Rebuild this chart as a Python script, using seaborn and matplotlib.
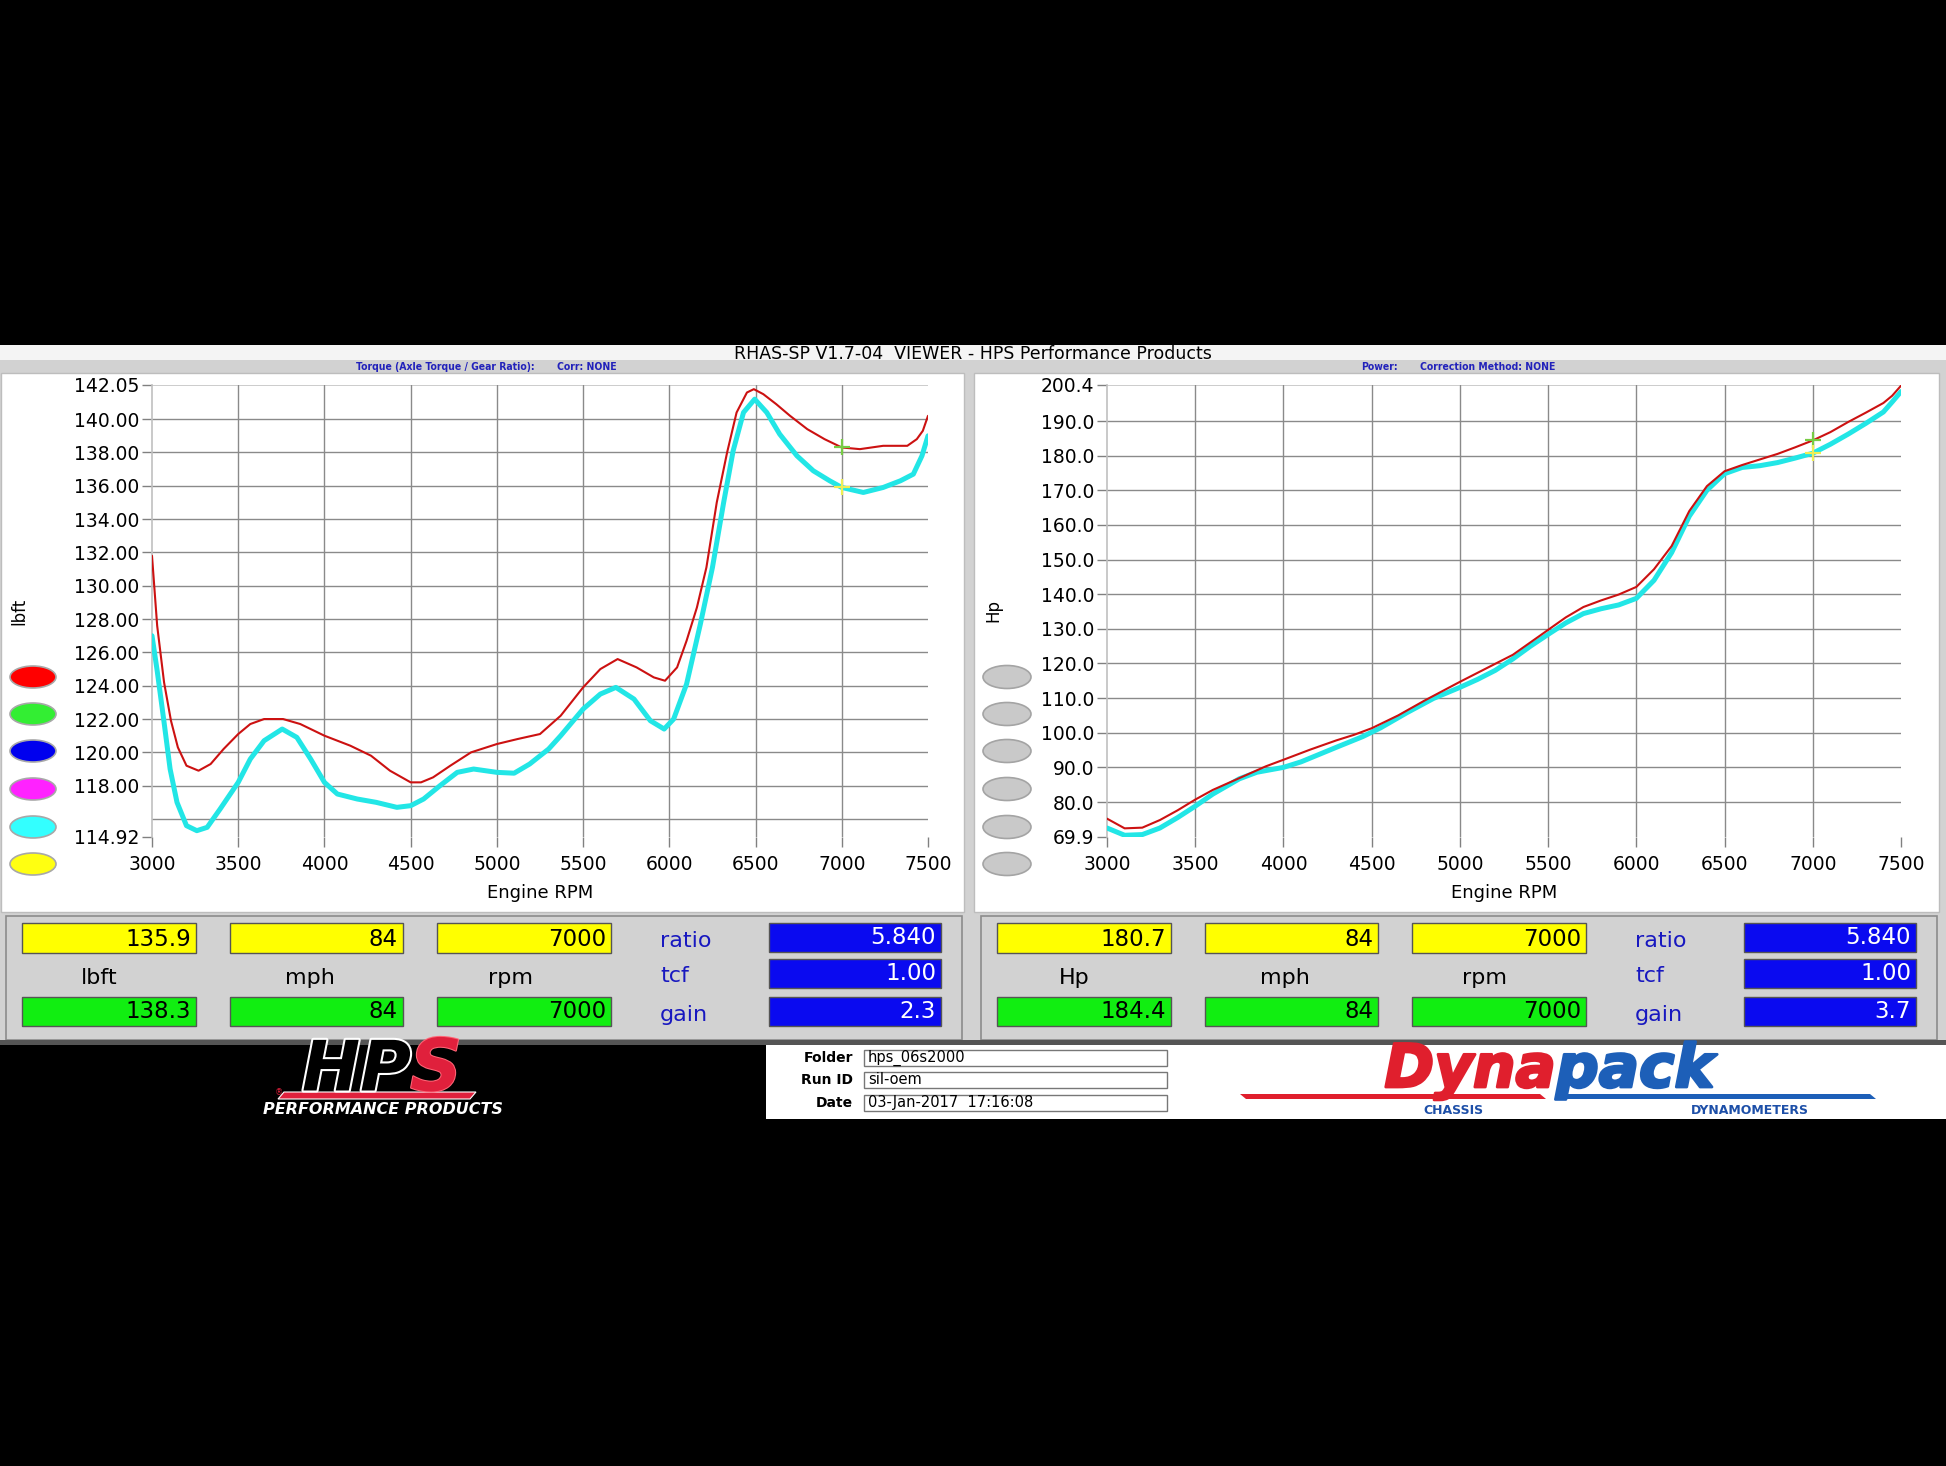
import numpy as np
import pandas as pd
import matplotlib
matplotlib.use("Agg")
import matplotlib.pyplot as plt
import seaborn as sns
from matplotlib.patches import Rectangle, Ellipse, Polygon
import matplotlib.patheffects as pe

# ---------------- data ----------------
red_tq_rpm = [3000, 3030, 3070, 3110, 3150, 3200, 3270, 3340, 3415, 3500, 3570, 3650, 3760, 3860, 4000,
              4150, 4270, 4380, 4500, 4560, 4630, 4730, 4850, 5000, 5120, 5250, 5370, 5500, 5600, 5700,
              5810, 5910, 5975, 6045, 6100, 6160, 6215, 6275, 6335, 6390, 6450, 6490, 6545, 6620, 6700,
              6800, 6900, 7000, 7105, 7240, 7380, 7435, 7470, 7500]
red_tq_val = [131.8, 127.6, 124.2, 121.9, 120.3, 119.2, 118.9, 119.3, 120.2, 121.1, 121.7, 122.0, 122.0, 121.7, 121.0,
              120.4, 119.8, 118.9, 118.2, 118.2, 118.5, 119.2, 120.0, 120.5, 120.8, 121.1, 122.2, 123.9, 125.0, 125.6,
              125.1, 124.5, 124.3, 125.1, 126.7, 128.7, 131.1, 135.0, 138.0, 140.4, 141.6, 141.8, 141.5, 140.9, 140.2,
              139.4, 138.8, 138.3, 138.2, 138.4, 138.4, 138.8, 139.3, 140.2]

cyan_tq_rpm = [3000, 3030, 3070, 3105, 3145, 3200, 3260, 3320, 3395, 3500, 3570, 3650, 3755, 3840, 3920,
               4000, 4075, 4190, 4300, 4420, 4500, 4575, 4670, 4770, 4865, 5000, 5100, 5190, 5300, 5370,
               5500, 5600, 5690, 5795, 5890, 5970, 6025, 6100, 6180, 6250, 6315, 6370, 6430, 6495, 6565,
               6640, 6740, 6835, 6930, 7000, 7125, 7240, 7340, 7415, 7465, 7500]
cyan_tq_val = [127.0, 124.9, 121.8, 119.0, 117.0, 115.6, 115.3, 115.5, 116.6, 118.2, 119.6, 120.7, 121.4, 120.9, 119.6,
               118.2, 117.5, 117.2, 117.0, 116.7, 116.8, 117.2, 118.0, 118.8, 119.0, 118.8, 118.75, 119.3, 120.2, 121.0,
               122.6, 123.5, 123.9, 123.2, 121.9, 121.4, 122.0, 124.1, 127.7, 131.1, 135.0, 138.1, 140.4, 141.2, 140.4,
               139.1, 137.8, 136.9, 136.3, 135.9, 135.6, 135.9, 136.3, 136.7, 137.8, 139.0]

red_hp_rpm = [3000, 3100, 3200, 3300, 3400, 3500, 3600, 3750, 3900, 4000, 4150, 4300, 4400, 4500, 4650, 4800,
              5000, 5150, 5300, 5400, 5500, 5600, 5700, 5800, 5900, 6000, 6100, 6200, 6300, 6400, 6500, 6600,
              6700, 6800, 6900, 7000, 7100, 7200, 7300, 7400, 7450, 7500]
red_hp_val = [75.2, 72.4, 72.6, 74.8, 77.6, 80.7, 83.5, 86.9, 90.3, 92.2, 95.1, 97.8, 99.4, 101.3, 105.0, 109.3,
              114.7, 118.6, 122.5, 126.1, 129.7, 133.3, 136.3, 138.2, 139.9, 142.1, 147.2, 153.9, 164.0, 171.2, 175.5, 177.3,
              178.9, 180.5, 182.4, 184.4, 186.8, 189.7, 192.4, 195.2, 197.3, 200.2]

cyan_hp_rpm = [3000, 3100, 3200, 3300, 3400, 3500, 3600, 3750, 3850, 4000, 4100, 4300, 4450, 4550, 4700, 4850,
               5000, 5100, 5200, 5300, 5400, 5500, 5600, 5700, 5800, 5900, 6000, 6100, 6200, 6300, 6400, 6500,
               6600, 6700, 6800, 6900, 7000, 7100, 7200, 7300, 7400, 7450, 7500]
cyan_hp_val = [72.5, 70.4, 70.6, 72.5, 75.5, 78.8, 82.3, 86.7, 88.6, 90.0, 91.6, 95.8, 98.9, 101.4, 105.8, 109.9,
               113.1, 115.4, 118.0, 121.3, 125.0, 128.4, 131.7, 134.4, 135.8, 136.9, 138.8, 144.0, 152.0, 162.5, 170.0, 174.8,
               176.6, 177.1, 178.0, 179.3, 180.7, 183.3, 186.2, 189.3, 192.6, 195.5, 198.5]

x_ticks = [3000, 3500, 4000, 4500, 5000, 5500, 6000, 6500, 7000, 7500]
tq_ticks = [114.92, 118, 120, 122, 124, 126, 128, 130, 132, 134, 136, 138, 140, 142.05]
tq_grid = [116, 118, 120, 122, 124, 126, 128, 130, 132, 134, 136, 138, 140]
hp_ticks = [69.9, 80, 90, 100, 110, 120, 130, 140, 150, 160, 170, 180, 190, 200.4]
hp_grid = [80, 90, 100, 110, 120, 130, 140, 150, 160, 170, 180, 190]

cursor_rpm = 7000
tq_yellow = ["135.9", "84", "7000"]
tq_green = ["138.3", "84", "7000"]
tq_blue = ["5.840", "1.00", "2.3"]
hp_yellow = ["180.7", "84", "7000"]
hp_green = ["184.4", "84", "7000"]
hp_blue = ["5.840", "1.00", "3.7"]
units_tq = ["lbft", "mph", "rpm"]
units_hp = ["Hp", "mph", "rpm"]
blue_labels = ["ratio", "tcf", "gain"]

title = "RHAS-SP V1.7-04  VIEWER - HPS Performance Products"

# ---------------- setup ----------------
W, H, DPI = 1946, 1466, 100
sns.set_theme(style="white")
plt.rcParams["font.family"] = ["DejaVu Sans"]

RED = "#cc1111"
CYAN = "#22e6e6"
GRID = "#8a8a8a"
APPGRAY = "#d2d2d2"

fig = plt.figure(figsize=(W / DPI, H / DPI), dpi=DPI, facecolor="black")


def fr(x0, y0, x1, y1):
    return [x0 / W, 1 - y1 / H, (x1 - x0) / W, (y1 - y0) / H]


def rect(x0, y0, x1, y1, fc, ec="none", lw=0.0, z=-5):
    l, b, w, h = fr(x0, y0, x1, y1)
    fig.patches.append(Rectangle((l, b), w, h, transform=fig.transFigure,
                                 facecolor=fc, edgecolor=ec, lw=lw, zorder=z))


def poly(pts, fc, ec="none", lw=0.0, z=1):
    fig.patches.append(Polygon([[x / W, 1 - y / H] for x, y in pts], closed=True, transform=fig.transFigure,
                               facecolor=fc, edgecolor=ec, lw=lw, zorder=z))


def txt(x, y, s, **kw):
    return fig.text(x / W, 1 - y / H, s, **kw)


# backgrounds
rect(0, 345, W, 360, "#f4f4f4")
rect(0, 360, W, 1045, APPGRAY)
rect(1, 373, 964, 912, "white", ec="#bdbdbd", lw=1)
rect(974, 373, 1939, 912, "white", ec="#bdbdbd", lw=1)

txt(973, 354, title, ha="center", va="center", fontsize=12.5, color="black")
sub_kw = dict(ha="left", va="center", fontsize=7.5, color="#2222bb", fontweight="bold", fontstretch="condensed")
txt(356, 367, "Torque (Axle Torque / Gear Ratio):", **sub_kw)
txt(557, 367, "Corr: NONE", **sub_kw)
txt(1361, 367, "Power:", **sub_kw)
txt(1420, 367, "Correction Method: NONE", **sub_kw)


def setup_axes(ax, yticks, ylabels, grid_vals, ytop, ylim):
    ax.set_facecolor("white")
    ax.set_xlim(x_ticks[0], x_ticks[-1])
    ax.set_ylim(*ylim)
    for v in grid_vals:
        ax.axhline(v, color=GRID, lw=1.0, zorder=1)
    ax.axhline(ytop, color="#c4c4c4", lw=1.2, zorder=1)
    for v in x_ticks[1:-1]:
        ax.axvline(v, color=GRID, lw=1.0, zorder=1)
    for s in ["top", "right", "bottom"]:
        ax.spines[s].set_visible(False)
    ax.spines["left"].set_color("#c0c0c0")
    ax.spines["left"].set_linewidth(1.2)
    ax.set_xticks(x_ticks)
    ax.set_xticklabels([str(v) for v in x_ticks])
    ax.set_yticks(yticks)
    ax.set_yticklabels(ylabels)
    ax.tick_params(axis="y", left=True, direction="out", length=7, width=1, color="#808080",
                   pad=2, labelsize=13.5, labelcolor="black")
    ax.tick_params(axis="x", bottom=True, direction="out", length=7, width=1, color="#808080",
                   pad=6, labelsize=13.5, labelcolor="black")
    ax.set_xlabel("")
    ax.set_ylabel("")
    ax.grid(False)


# ---------------- left: torque ----------------
axL = fig.add_axes(fr(152, 385, 928, 837))
setup_axes(axL, tq_ticks, ["%.2f" % v for v in tq_ticks], tq_grid, tq_ticks[-1], (tq_ticks[0], tq_ticks[-1]))
df_ct = pd.DataFrame({"rpm": cyan_tq_rpm, "val": cyan_tq_val})
df_rt = pd.DataFrame({"rpm": red_tq_rpm, "val": red_tq_val})
sns.lineplot(data=df_ct, x="rpm", y="val", ax=axL, color=CYAN, lw=3.6, estimator=None, sort=False, legend=False, zorder=3)
sns.lineplot(data=df_rt, x="rpm", y="val", ax=axL, color=RED, lw=1.5, estimator=None, sort=False, legend=False, zorder=4)
axL.plot([cursor_rpm], [float(tq_green[0])], marker="+", ms=11, mew=1.6, color="#77cc44", zorder=5)
axL.plot([cursor_rpm], [float(tq_yellow[0])], marker="+", ms=11, mew=1.6, color="#eeee55", zorder=5)
axL.set_xlabel("")
axL.set_ylabel("")

# ---------------- right: power ----------------
axR = fig.add_axes(fr(1107, 385, 1901, 837))
setup_axes(axR, hp_ticks, ["%.1f" % v for v in hp_ticks], hp_grid, hp_ticks[-1], (hp_ticks[0], hp_ticks[-1]))
df_ch = pd.DataFrame({"rpm": cyan_hp_rpm, "val": cyan_hp_val})
df_rh = pd.DataFrame({"rpm": red_hp_rpm, "val": red_hp_val})
sns.lineplot(data=df_ch, x="rpm", y="val", ax=axR, color=CYAN, lw=3.6, estimator=None, sort=False, legend=False, zorder=3)
sns.lineplot(data=df_rh, x="rpm", y="val", ax=axR, color=RED, lw=1.5, estimator=None, sort=False, legend=False, zorder=4)
axR.plot([cursor_rpm], [float(hp_green[0])], marker="+", ms=11, mew=1.6, color="#77cc44", zorder=5)
axR.plot([cursor_rpm], [float(hp_yellow[0])], marker="+", ms=11, mew=1.6, color="#eeee55", zorder=5)
axR.set_xlabel("")
axR.set_ylabel("")

# axis titles
txt(540, 893, "Engine RPM", ha="center", va="center", fontsize=13, color="black")
txt(1504, 893, "Engine RPM", ha="center", va="center", fontsize=13, color="black")
txt(19, 611, "lbft", ha="center", va="center", rotation=90, fontsize=12, color="black")
txt(993, 611, "Hp", ha="center", va="center", rotation=90, fontsize=12, color="black")

# legend ovals
oval_y = [677, 714, 751, 789, 827, 864]
oval_cols = ["#ff0000", "#33ee33", "#0000ee", "#ff22ff", "#33ffff", "#ffff11"]
for yy, c in zip(oval_y, oval_cols):
    fig.patches.append(Ellipse((33 / W, 1 - yy / H), 46 / W, 22 / H, transform=fig.transFigure,
                               facecolor=c, edgecolor="#a8a8a8", lw=1.2, zorder=6))
    fig.patches.append(Ellipse((1007 / W, 1 - yy / H), 48 / W, 23 / H, transform=fig.transFigure,
                               facecolor="#c9c9c9", edgecolor="#a4a4a4", lw=1.2, zorder=6))


# ---------------- data panels ----------------
def panel(o, yellow, green, blue, units):
    rect(6 + o, 916, 962 + o, 1040, APPGRAY, ec="#8c8c8c", lw=1.2, z=-4)
    boxes_x = [(22, 196), (230, 403), (437, 611)]
    unit_x = [99, 310, 510]
    for (x0, x1), yv, gv, ux, un in zip(boxes_x, yellow, green, unit_x, units):
        rect(x0 + o, 923, x1 + o, 953, "#ffff00", ec="#555555", lw=1, z=-3)
        txt(x1 + o - 5, 939, yv, ha="right", va="center", fontsize=16.5, color="black")
        rect(x0 + o, 997, x1 + o, 1026, "#11ee11", ec="#555555", lw=1, z=-3)
        txt(x1 + o - 5, 1012, gv, ha="right", va="center", fontsize=16.5, color="black")
        txt(ux + o, 978, un, ha="center", va="center", fontsize=16, color="black")
    blue_y = [(923, 952), (959, 988), (997, 1026)]
    lab_y = [941, 976, 1015]
    for (y0, y1), bv, lab, ly in zip(blue_y, blue, blue_labels, lab_y):
        rect(769 + o, y0, 941 + o, y1, "#0a0af0", ec="#555555", lw=1, z=-3)
        txt(941 + o - 5, (y0 + y1) / 2, bv, ha="right", va="center", fontsize=16.5, color="white")
        txt(660 + o, ly, lab, ha="left", va="center", fontsize=16, color="#1818c0")


panel(0, tq_yellow, tq_green, tq_blue, units_tq)
panel(975, hp_yellow, hp_green, hp_blue, units_hp)
rect(0, 1040, W, 1045, "#555555", z=-4)

# ---------------- bottom logo strip ----------------
rect(0, 1045, 766, 1119, "black", z=-4)
rect(766, 1045, 1173, 1119, "white", z=-4)
rect(1173, 1045, W, 1119, "white", z=-4)

# HPS logo
poly([(278, 1099), (470, 1099), (476, 1092), (284, 1092)], "#e0203c", ec="white", lw=0.8, z=2)
txt(302, 1071, "HP", ha="left", va="center", fontsize=50, fontstyle="italic", fontweight="bold",
    color="black", path_effects=[pe.withStroke(linewidth=3, foreground="white")])
txt(410, 1071, "S", ha="left", va="center", fontsize=52, fontstyle="italic", fontweight="bold",
    color="#e0203c", path_effects=[pe.withStroke(linewidth=1.5, foreground="#ff6677")])
txt(383, 1109, "PERFORMANCE PRODUCTS", ha="center", va="center", fontsize=11.5, fontstyle="italic",
    fontweight="bold", color="white")
txt(279, 1093, "®", ha="center", va="center", fontsize=6, color="#e0203c")

# Folder / Run ID / Date
info_labels = ["Folder", "Run ID", "Date"]
info_values = ["hps_06s2000", "sil-oem", "03-Jan-2017  17:16:08"]
info_y = [(1050, 1066), (1072, 1088), (1095, 1111)]
for lab, val, (y0, y1) in zip(info_labels, info_values, info_y):
    txt(853, (y0 + y1) / 2, lab, ha="right", va="center", fontsize=10, fontweight="bold", color="black")
    rect(864, y0, 1167, y1, "white", ec="#777777", lw=1, z=-3)
    txt(868, (y0 + y1) / 2, val, ha="left", va="center", fontsize=10.5, color="black")

# Dynapack logo
poly([(1240, 1094), (1540, 1094), (1546, 1099), (1246, 1099)], "#e01f2d", z=1)
poly([(1560, 1094), (1870, 1094), (1876, 1099), (1566, 1099)], "#1d5fb8", z=1)
txt(1556, 1087, "Dyna", ha="right", va="baseline", fontsize=43, fontstyle="italic", fontweight="black",
    color="#e01f2d", path_effects=[pe.withStroke(linewidth=2, foreground="#e01f2d")])
txt(1556, 1087, "pack", ha="left", va="baseline", fontsize=43, fontstyle="italic", fontweight="black",
    color="#1d5fb8", path_effects=[pe.withStroke(linewidth=2, foreground="#1d5fb8")])
txt(1453, 1110, "CHASSIS", ha="center", va="center", fontsize=9, fontweight="bold", color="#1d4fa8")
txt(1750, 1110, "DYNAMOMETERS", ha="center", va="center", fontsize=9, fontweight="bold", color="#1d4fa8")

fig.savefig("out.png", dpi=DPI, facecolor="black")
